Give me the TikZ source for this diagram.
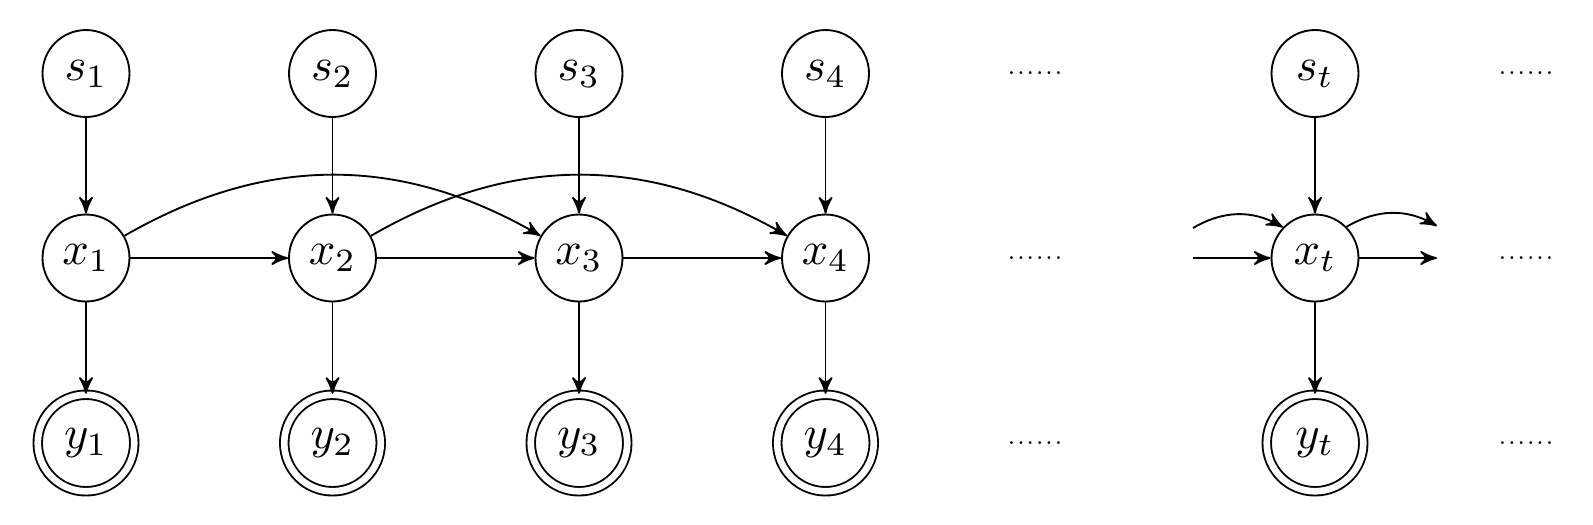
\documentclass[tikz,border=0pt]{standalone}
\usetikzlibrary{arrows}
\newcommand\sixdots{......}
\begin{document}
\begin{tikzpicture}[x=0.215pt,y=-0.215pt,>=stealth',
  var/.style={circle,draw,inner sep=0pt,minimum size=18.7pt},
  obs/.style={circle,draw,double,double distance=1.43pt,inner sep=0pt,minimum size=20.75pt},
  dotsnode/.style={inner sep=0pt,font=\tiny}]
\useasboundingbox (0,0) rectangle (1593,524);
\foreach \i/\x in {1/86,2/332.5,3/579,4/825.5,t/1315}{
  \node[var] (s\i) at (\x,73.5) {$s_\i$};
  \node[var] (x\i) at (\x,258) {$x_\i$};
  \node[obs] (y\i) at (\x,443) {$y_\i$};
  \draw[->] (s\i) -- (x\i);
  \draw[->] (x\i) -- (y\i);
}
\foreach \x/\n in {1035/a,1526/b}{
  \node[dotsnode] (d1\n) at (\x,73.5) {\sixdots};
  \node[dotsnode] (d2\n) at (\x,258) {\sixdots};
  \node[dotsnode] (d3\n) at (\x,443) {\sixdots};
}
\draw[->] (x1) -- (x2);
\draw[->] (x2) -- (x3);
\draw[->] (x3) -- (x4);
\draw[->] (x1) to[bend left=30] (x3);
\draw[->] (x2) to[bend left=30] (x4);
\coordinate (inS) at (1193,258);
\coordinate (inC) at (1193,228);
\coordinate (outS) at (1437,258);
\coordinate (outC) at (1437,226);
\draw[->] (inS) -- (xt);
\draw[->] (inC) to[bend left=30] (xt);
\draw[->] (xt) -- (outS);
\draw[->] (xt) to[bend left=30] (outC);
\end{tikzpicture}
\end{document}
